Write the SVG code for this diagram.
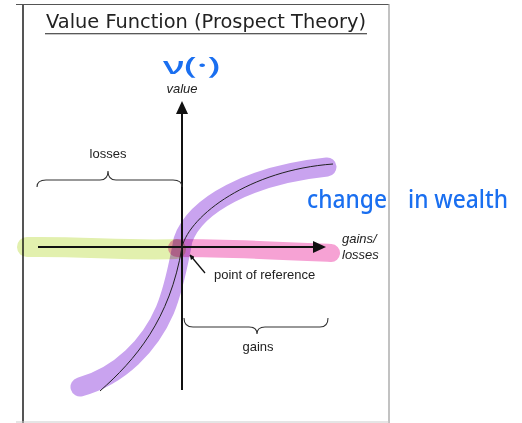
<svg xmlns="http://www.w3.org/2000/svg" width="522" height="423" viewBox="0 0 522 423">
<style>
.lbl{font-family:"Liberation Sans",Arial,sans-serif;font-size:13px;fill:#222}
.it{font-style:italic}
.hand{font-family:"Noto Sans","DejaVu Sans",sans-serif;fill:#1a6ff0;font-weight:500}
.hl{fill:none;stroke-linecap:round;stroke-linejoin:round;mix-blend-mode:multiply}
.brace{fill:none;stroke:#333;stroke-width:1.1}
.axis{stroke:#111;stroke-width:2;fill:none}
</style>
<defs>
<marker id="ah" viewBox="0 0 10 10" refX="9" refY="5" markerWidth="5" markerHeight="5" orient="auto" markerUnits="userSpaceOnUse">
<path d="M0,0 L10,5 L0,10 Z" fill="#111"/>
</marker>
</defs>
<rect width="522" height="423" fill="#fff"/>
<g id="frame">
<line x1="16" y1="4.5" x2="389" y2="4.5" stroke="#555" stroke-width="1.2"/>
<line x1="23" y1="4" x2="23" y2="423" stroke="#555" stroke-width="2"/>
<line x1="389" y1="4" x2="389" y2="423" stroke="#999" stroke-width="1.2"/>
<line x1="16" y1="422" x2="389" y2="422" stroke="#ccc" stroke-width="1.2"/>
</g>
<g id="title">
<text x="46" y="28" font-family="'DejaVu Sans',sans-serif" font-size="20" fill="#222" textLength="320" lengthAdjust="spacingAndGlyphs">Value Function (Prospect Theory)</text>
<line x1="45" y1="33.7" x2="367" y2="33.7" stroke="#222" stroke-width="1.1"/>
</g>
<g id="highlights">
<path class="hl" d="M27,247 C80,246 130,251 176,249" stroke="#e2f0ae" stroke-width="20"/>
<path class="hl" d="M80,387 C120,376 150,345 165,310 C174,288 179,262 183,240 C195,205 250,175 327,167" stroke="#c9a3ef" stroke-width="19"/>
<path class="hl" d="M177,248 C230,248 290,251 331,253" stroke="#f6a2d4" stroke-width="18"/>
</g>
<g id="connectors">
<line class="axis" x1="182" y1="390" x2="182" y2="113"/>
<path d="M182,101 L176,114 L188,114 Z" fill="#111"/>
<line class="axis" x1="38" y1="247" x2="314" y2="247"/>
<path d="M326,247 L313,241 L313,253 Z" fill="#111"/>
<path d="M100,391 C135,360 170,320 182,247 C190,215 250,170 333,164" fill="none" stroke="#222" stroke-width="1"/>
<line x1="205" y1="273" x2="190" y2="255" stroke="#111" stroke-width="1.3" marker-end="url(#ah)"/>
</g>
<g id="yLabel">
<text class="hand" x="163" y="74" font-size="24" font-weight="400" textLength="57" lengthAdjust="spacingAndGlyphs">ν(·)</text>
<text class="lbl it" x="182" y="93" text-anchor="middle">value</text>
</g>
<g id="xLabel">
<text class="lbl it" x="342" y="243">gains/</text>
<text class="lbl it" x="342" y="259">losses</text>
<text class="hand" y="208" font-size="26"><tspan x="307" textLength="80" lengthAdjust="spacingAndGlyphs">change</tspan><tspan x="408" textLength="100" lengthAdjust="spacingAndGlyphs">in wealth</tspan></text>
</g>
<g id="losses">
<path class="brace" d="M37,187 Q37,180 46,180 L100,180 Q108,180 108,171 Q108,180 116,180 L173,180 Q182,180 182,187"/>
<text class="lbl" x="108" y="158" text-anchor="middle">losses</text>
</g>
<g id="gains">
<path class="brace" d="M184,318 Q184,327 193,327 L249,327 Q257,327 257,334 Q257,327 265,327 L320,327 Q328,327 328,318"/>
<text class="lbl" x="258" y="351" text-anchor="middle">gains</text>
</g>
<g id="reference">
<text class="lbl" x="214" y="279">point of reference</text>
</g>
</svg>
